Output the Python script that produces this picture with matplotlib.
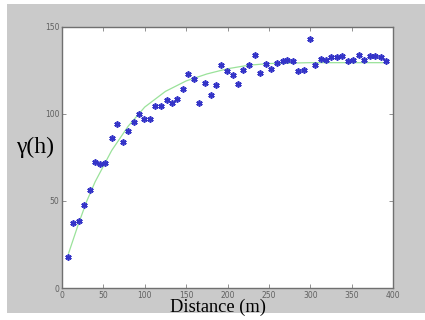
import matplotlib
matplotlib.use("Agg")
import matplotlib.pyplot as plt
from matplotlib.patches import Rectangle

# Experimental variogram points (distance in m, gamma)
dist = [7.7, 13.7, 20.0, 26.6, 33.8, 40.3, 45.9, 52.4, 60.4, 66.0, 73.3, 79.4,
        87.0, 93.4, 99.5, 106.3, 112.4, 120.0, 126.5, 132.6, 139.0, 146.2,
        152.6, 159.5, 165.6, 172.8, 179.7, 186.0, 192.5, 199.4, 206.2, 212.3,
        219.1, 225.6, 233.2, 239.3, 246.2, 252.2, 259.4, 266.7, 272.3, 278.8,
        285.6, 292.5, 299.7, 305.4, 312.6, 318.7, 325.4, 331.9, 338.4, 345.2,
        352.0, 358.5, 365.0, 372.2, 378.6, 385.1, 391.5]
gamma = [17.6, 37.5, 38.3, 47.7, 56.3, 72.4, 71.3, 71.7, 86.2, 94.3, 83.7, 90.0,
         95.4, 99.8, 97.3, 97.1, 104.6, 104.6, 108.0, 106.1, 108.6, 114.2,
         123.0, 120.0, 106.5, 117.6, 110.9, 116.9, 128.4, 124.9, 122.6, 117.2,
         125.3, 128.2, 133.9, 123.7, 128.9, 125.7, 129.5, 130.5, 131.0, 130.3,
         124.5, 125.3, 143.1, 128.2, 131.6, 130.8, 132.6, 132.6, 133.3, 130.6,
         131.0, 133.9, 131.0, 133.5, 133.5, 132.9, 130.6]

# Fitted model curve
model_x = [8, 20, 30, 40, 50, 60, 80, 100, 125, 150, 175, 200, 225, 250, 300, 350, 392]
model_y = [20, 37, 50, 61, 70, 79, 93, 104, 113, 119, 123, 126, 128, 129, 129.5, 129.5, 129.5]

xticks = [0, 50, 100, 150, 200, 250, 300, 350, 400]
yticks = [0, 50, 100, 150]

W, H = 425, 320
fig = plt.figure(figsize=(W / 100, H / 100), dpi=100, facecolor="white")
fig.patches.append(Rectangle((7 / W, (H - 313) / H), 1 - 7 / W, (313 - 4) / H,
                             transform=fig.transFigure, facecolor="#cacaca",
                             edgecolor="none", zorder=-10))

ax = fig.add_axes([62 / W, (H - 288) / H, (393 - 62) / W, (288 - 27) / H])
ax.set_zorder(5)
ax.set_facecolor("white")
ax.plot(model_x, model_y, color="#9ae29a", lw=0.9, zorder=2)
ax.plot(dist, gamma, linestyle="none", marker=(6, 2, 0), markersize=4.5,
        markeredgewidth=1.2, color="#3434c8", zorder=3)

ax.set_xlim(0, 400)
ax.set_ylim(0, 150)
ax.set_xticks(xticks)
ax.set_yticks(yticks)
ax.tick_params(direction="in", length=3, width=0.6, colors="#808080",
               labelsize=5.5, labelcolor="#606060", top=True, right=True, pad=2)
for s in ax.spines.values():
    s.set_color("#707070")
    s.set_linewidth(1.0)

fig.text(35 / W, 1 - 147 / H, "γ(h)", family="Liberation Serif", fontsize=17,
         ha="center", va="center", color="black", zorder=10)
fig.text(218 / W, 1 - 307 / H, "Distance (m)", family="Liberation Serif",
         fontsize=13.2, ha="center", va="center", color="black", zorder=10)

fig.savefig("out.png", dpi=100, facecolor=fig.get_facecolor())
